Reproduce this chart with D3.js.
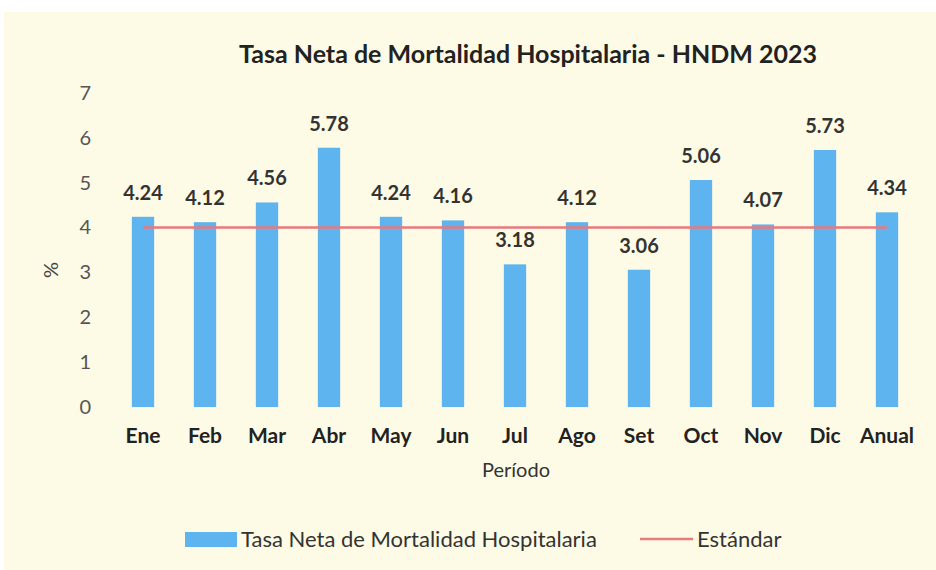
<!DOCTYPE html>
<html>
<head>
<meta charset="utf-8">
<script src="https://cdn.jsdelivr.net/npm/d3@7"></script>
<style>
  body { margin: 0; background: #fff; }
  svg { display: block; }
</style>
</head>
<body>
<script>
var width = 936,
    height = 570;

// datos
var meses = ["Ene", "Feb", "Mar", "Abr", "May", "Jun", "Jul", "Ago", "Set", "Oct", "Nov", "Dic", "Anual"];
var tasa = [4.24, 4.12, 4.56, 5.78, 4.24, 4.16, 3.18, 4.12, 3.06, 5.06, 4.07, 5.73, 4.34];
var estandar = [4, 4, 4, 4, 4, 4, 4, 4, 4, 4, 4, 4, 4];
var yTicks = [0, 1, 2, 3, 4, 5, 6, 7];

var font = "Lato, 'Open Sans', sans-serif";

var svg = d3.select("body").append("svg")
    .attr("width", width)
    .attr("height", height);

// fondo crema del grafico escaneado
svg.append("rect").attr("x", 0).attr("y", 0).attr("width", width).attr("height", height).attr("fill", "#fff");
svg.append("rect").attr("x", 4).attr("y", 12).attr("width", width - 4).attr("height", height - 12).attr("fill", "#fdfbe6");

var x = d3.scaleBand()
    .domain(meses)
    .range([112, 918])
    .paddingInner(0.64)
    .paddingOuter(0.32);

var y = d3.scaleLinear()
    .domain([0, 7])
    .range([407, 93]);

// titulo
svg.append("text")
    .attr("x", 528)
    .attr("y", 63)
    .attr("text-anchor", "middle")
    .style("font-family", font)
    .style("font-weight", "bold")
    .style("font-size", "25px")
    .style("fill", "#222")
    .text("Tasa Neta de Mortalidad Hospitalaria - HNDM 2023");

// eje y (solo etiquetas)
var yAxis = svg.append("g")
    .attr("transform", "translate(91,0)")
    .call(d3.axisLeft(y).tickValues(yTicks).tickSize(0).tickPadding(0).tickFormat(d3.format("d")));
yAxis.select(".domain").remove();
yAxis.selectAll("text")
    .style("font-family", font)
    .style("font-size", "20px")
    .style("fill", "#555");

// eje x
var xAxis = svg.append("g")
    .attr("transform", "translate(0,424)")
    .call(d3.axisBottom(x).tickSize(0).tickPadding(4));
xAxis.select(".domain").remove();
xAxis.selectAll("text")
    .style("font-family", font)
    .style("font-weight", "bold")
    .style("font-size", "21px")
    .style("fill", "#222");

// barras
svg.append("g").selectAll("rect")
    .data(tasa)
    .enter()
    .append("rect")
    .attr("x", function (d, i) { return x(meses[i]); })
    .attr("y", function (d) { return y(d); })
    .attr("width", x.bandwidth())
    .attr("height", function (d) { return y(0) - y(d); })
    .attr("fill", "#5db4ee");

// linea estandar
var line = d3.line()
    .x(function (d, i) { return x(meses[i]) + x.bandwidth() / 2; })
    .y(function (d) { return y(d); });

svg.append("path")
    .datum(estandar)
    .attr("d", line)
    .attr("fill", "none")
    .attr("stroke", "#e8797c")
    .attr("stroke-width", 2.5);

// etiquetas de valores
svg.append("g").selectAll("text")
    .data(tasa)
    .enter()
    .append("text")
    .attr("x", function (d, i) { return x(meses[i]) + x.bandwidth() / 2; })
    .attr("y", function (d) { return y(d) - 17; })
    .attr("text-anchor", "middle")
    .style("font-family", font)
    .style("font-weight", "bold")
    .style("font-size", "20px")
    .style("fill", "#333")
    .text(function (d) { return d.toFixed(2); });

// titulos de ejes
svg.append("text")
    .attr("transform", "translate(58,270) rotate(-90)")
    .attr("text-anchor", "middle")
    .style("font-family", font)
    .style("font-size", "20px")
    .style("fill", "#444")
    .text("%");

svg.append("text")
    .attr("x", 516)
    .attr("y", 477)
    .attr("text-anchor", "middle")
    .style("font-family", font)
    .style("font-size", "20px")
    .style("fill", "#333")
    .text("Período");

// leyenda
var legend = svg.append("g");
legend.append("rect")
    .attr("x", 185).attr("y", 532).attr("width", 52).attr("height", 15)
    .attr("fill", "#5db4ee");
legend.append("text")
    .attr("x", 241).attr("y", 547)
    .style("font-family", font)
    .style("font-size", "22px")
    .style("fill", "#333")
    .text("Tasa Neta de Mortalidad Hospitalaria");
legend.append("line")
    .attr("x1", 640).attr("x2", 693).attr("y1", 539).attr("y2", 539)
    .attr("stroke", "#e8797c").attr("stroke-width", 2.5);
legend.append("text")
    .attr("x", 697).attr("y", 547)
    .style("font-family", font)
    .style("font-size", "22px")
    .style("fill", "#333")
    .text("Estándar");
</script>
</body>
</html>
